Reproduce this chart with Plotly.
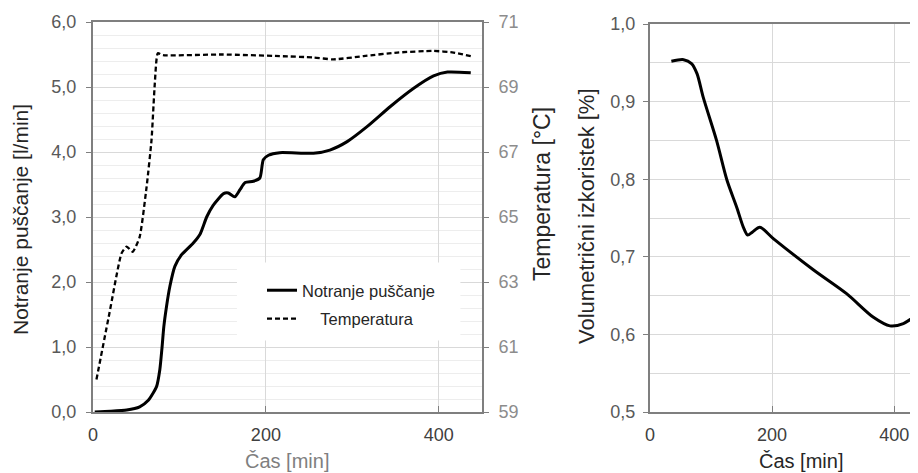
import plotly.graph_objects as go

# ---------------- data ----------------
leak_time = [2, 20, 39, 54, 64, 73.5, 77.3, 79.9, 81.9, 85, 88.9, 94.7, 102.5, 116, 124, 131.5, 139, 151,
             156.5, 164, 170, 176, 185.5, 193, 197, 203, 216, 255, 274, 294, 317, 344, 371, 394, 410, 437]
leak_value = [0.0, 0.01, 0.03, 0.08, 0.18, 0.39, 0.65, 1.0, 1.31, 1.62, 1.93, 2.24, 2.42, 2.60, 2.74, 3.0, 3.18, 3.36,
              3.37, 3.31, 3.42, 3.53, 3.55, 3.6, 3.88, 3.95, 3.99, 3.98, 4.03, 4.16, 4.39, 4.70, 4.98, 5.17, 5.23, 5.22]

temp_time = [4, 19, 33, 39, 46, 54, 62, 67.7, 71.5, 75, 81, 150, 216, 255, 278, 313, 352, 394, 417, 437]
temp_value = [60.0, 62.04, 63.88, 64.09, 63.93, 64.39, 65.93, 67.37, 69.11, 70.04, 69.98, 70.0, 69.95, 69.91,
              69.85, 69.95, 70.06, 70.11, 70.06, 69.95]

eff_time = [35, 55, 68, 77, 87, 109, 126, 142, 153, 160, 168, 180, 202, 268, 322, 366, 393, 415, 440]
eff_value = [0.952, 0.954, 0.949, 0.936, 0.906, 0.850, 0.799, 0.764, 0.738, 0.728, 0.732, 0.738, 0.7235,
             0.683, 0.6525, 0.622, 0.611, 0.614, 0.627]

x_ticks = [0, 200, 400]
left_y_ticks = [0, 1, 2, 3, 4, 5, 6]
temp_ticks = [59, 61, 63, 65, 67, 69, 71]
eff_ticks = [0.5, 0.6, 0.7, 0.8, 0.9, 1.0]

name_leak = "Notranje puščanje"
name_temp = "\u00a0\u00a0\u00a0\u00a0Temperatura"
title_x = "Čas [min]"
title_leak = "Notranje puščanje [l/min]"
title_temp = "Temperatura [°C]"
title_eff = "Volumetrični izkoristek [%]"

# ---------------- figure ----------------
# page body has an 8px margin, so the figure is 8px smaller and page pixels are shifted by 8
OFF = 8
W, H = 918 - OFF, 473 - OFF
FONT = "Liberation Sans, Arial, sans-serif"

def px_x(p):
    return (p - OFF) / W

def px_y(p):
    return (H - (p - OFF)) / H

fig = go.Figure()

fig.add_trace(go.Scatter(x=leak_time, y=leak_value, name=name_leak, mode="lines", legendgroup="a",
                         line=dict(color="black", width=3, shape="spline", smoothing=0.6),
                         xaxis="x", yaxis="y"))
fig.add_trace(go.Scatter(x=temp_time, y=temp_value, name=name_temp, mode="lines", legendgroup="b",
                         line=dict(color="black", width=2.3, dash="5px,3px", shape="spline", smoothing=0.5),
                         xaxis="x", yaxis="y2"))
fig.add_trace(go.Scatter(x=eff_time, y=eff_value, name="eff", mode="lines", showlegend=False,
                         line=dict(color="black", width=3, shape="spline", smoothing=0.8),
                         xaxis="x3", yaxis="y3"))

axis_line = "#7f7f7f"
grid_major = "#d9d9d9"
grid_minor = "#ededed"
tick_font = dict(family=FONT, size=18, color="#595959")

fig.update_layout(
    template="none",
    width=W, height=H, autosize=False,
    margin=dict(l=0, r=0, t=0, b=0, pad=0),
    paper_bgcolor="white", plot_bgcolor="white",
    separators=", ",
    font=dict(family=FONT, size=18, color="#404040"),
    xaxis=dict(domain=[px_x(93), px_x(482)], range=[0, 450], tickvals=x_ticks, automargin=False,
               showline=True, linecolor=axis_line, linewidth=2, mirror=True,
               ticks="inside", ticklen=6, tickcolor=axis_line,
               showgrid=True, gridcolor=grid_major, gridwidth=1, zeroline=False,
               tickfont=dict(family=FONT, size=18, color="#404040"), ticklabelstandoff=5,
               anchor="y"),
    yaxis=dict(domain=[px_y(412), px_y(22)], range=[0, 6], tickvals=left_y_ticks, tickformat=".1f",
               automargin=False,
               showline=True, linecolor=axis_line, linewidth=2,
               ticks="outside", ticklen=5, tickcolor=axis_line,
               showgrid=True, gridcolor=grid_major, gridwidth=1, zeroline=False,
               minor=dict(dtick=0.2, showgrid=True, gridcolor=grid_minor, gridwidth=1),
               tickfont=tick_font, ticklabelstandoff=6, anchor="x"),
    yaxis2=dict(overlaying="y", side="right", anchor="x", range=[59, 71], tickvals=temp_ticks,
                automargin=False,
                showline=True, linecolor=axis_line, linewidth=2,
                ticks="outside", ticklen=5, tickcolor=axis_line,
                showgrid=False, zeroline=False,
                tickfont=dict(family=FONT, size=18, color="#8c8c8c"), ticklabelstandoff=6),
    xaxis3=dict(domain=[px_x(650), 1.0], range=[0, 439], tickvals=x_ticks, automargin=False,
                showline=True, linecolor=axis_line, linewidth=2, mirror=True,
                ticks="inside", ticklen=6, tickcolor=axis_line,
                showgrid=True, gridcolor=grid_major, gridwidth=1, zeroline=False,
                tickfont=dict(family=FONT, size=18, color="#404040"), ticklabelstandoff=5,
                anchor="y3"),
    yaxis3=dict(domain=[px_y(412), px_y(24)], range=[0.5, 1.0], tickvals=eff_ticks, tickformat=".1f",
                automargin=False,
                showline=True, linecolor=axis_line, linewidth=2,
                ticks="outside", ticklen=5, tickcolor=axis_line,
                showgrid=True, gridcolor=grid_major, gridwidth=1, zeroline=False,
                minor=dict(dtick=0.05, showgrid=True, gridcolor=grid_major, gridwidth=1),
                tickfont=tick_font, ticklabelstandoff=4, anchor="x3"),
    legend=dict(x=px_x(262), y=px_y(273), xanchor="left", yanchor="top",
                bgcolor="rgba(0,0,0,0)", borderwidth=0, traceorder="grouped", tracegroupgap=4,
                font=dict(family=FONT, size=16.5, color="#262626"), itemwidth=30),
    shapes=[dict(type="rect", xref="x", yref="y", x0=166.5, x1=425, y0=1.1, y1=2.3,
                 fillcolor="white", line=dict(width=0), layer="between")],
    annotations=[
        dict(text=title_leak, x=px_x(20), y=px_y(220), xref="paper", yref="paper", textangle=-90,
             showarrow=False, xanchor="center", yanchor="middle",
             font=dict(family=FONT, size=21, color="#262626")),
        dict(text=title_temp, x=px_x(542), y=px_y(194), xref="paper", yref="paper", textangle=-90,
             showarrow=False, xanchor="center", yanchor="middle",
             font=dict(family=FONT, size=23, color="#262626")),
        dict(text=title_eff, x=px_x(587), y=px_y(216), xref="paper", yref="paper", textangle=-90,
             showarrow=False, xanchor="center", yanchor="middle",
             font=dict(family=FONT, size=22, color="#262626")),
        dict(text=title_x, x=px_x(287), y=px_y(461), xref="paper", yref="paper",
             showarrow=False, xanchor="center", yanchor="middle",
             font=dict(family=FONT, size=20, color="#7f7f7f")),
        dict(text=title_x, x=px_x(801), y=px_y(461), xref="paper", yref="paper",
             showarrow=False, xanchor="center", yanchor="middle",
             font=dict(family=FONT, size=20, color="#262626")),
    ],
)

fig.write_html("out.html")
